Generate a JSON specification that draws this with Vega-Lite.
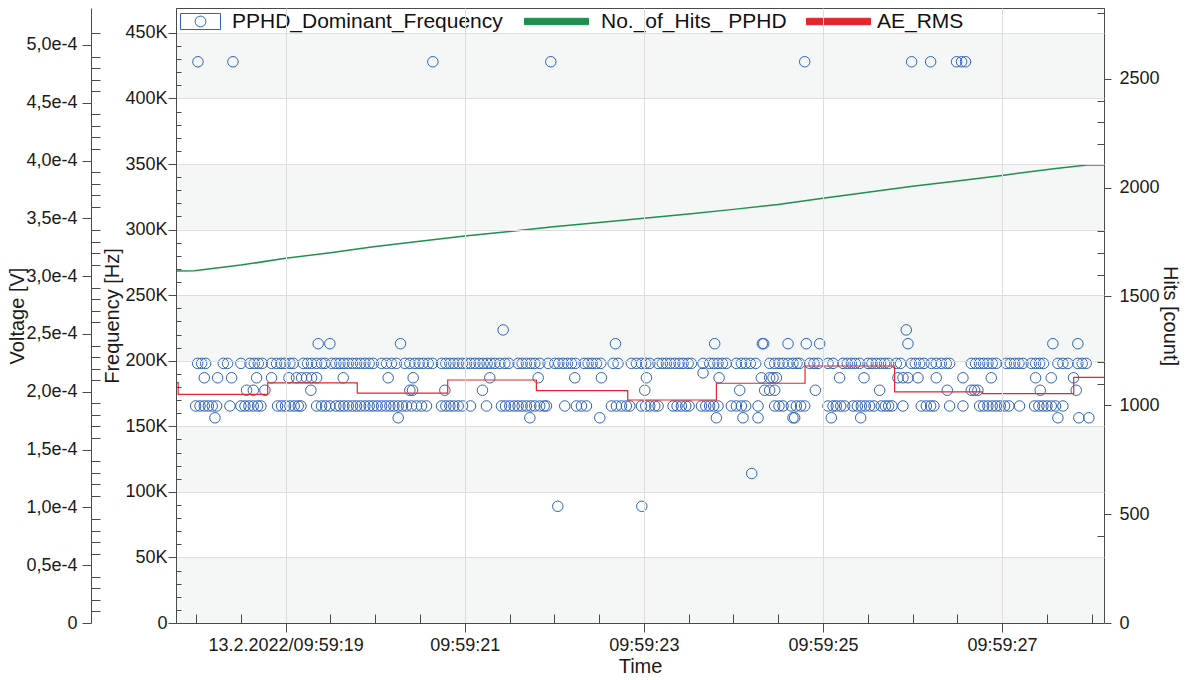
{
  "$schema": "https://vega.github.io/schema/vega-lite/v6.json",
  "width": 928,
  "height": 615,
  "autosize": {"type": "none"},
  "padding": {"left": 176, "top": 8, "right": 86, "bottom": 57},
  "background": "white",
  "config": {
    "view": {"stroke": "#4a4a4a", "strokeWidth": 1},
    "axis": {
      "labelFont": "Liberation Sans",
      "titleFont": "Liberation Sans",
      "labelColor": "#1a1a1a",
      "titleColor": "#1a1a1a",
      "titleFontWeight": "normal",
      "domainColor": "#4a4a4a",
      "tickColor": "#4a4a4a",
      "gridColor": "#dddddd",
      "labelFontSize": 18,
      "titleFontSize": 20,
      "labelOverlap": false,
      "labelFlush": false
    },
    "legend": {
      "labelFont": "Liberation Sans",
      "labelFontSize": 21,
      "labelColor": "#111111",
      "labelLimit": 400,
      "padding": 0
    }
  },
  "datasets": {
    "bands": [
      {"lo": 400000, "hi": 450000},
      {"lo": 300000, "hi": 350000},
      {"lo": 200000, "hi": 250000},
      {"lo": 100000, "hi": 150000},
      {"lo": 0, "hi": 50000}
    ],
    "ae": [
      {"t": 17.776, "v": 0.0002079},
      {"t": 17.80, "v": 0.0001978},
      {"t": 18.80, "v": 0.0002077},
      {"t": 19.80, "v": 0.0001988},
      {"t": 20.81, "v": 0.0002102},
      {"t": 21.80, "v": 0.0002010},
      {"t": 22.82, "v": 0.0001929},
      {"t": 23.81, "v": 0.0002074},
      {"t": 24.80, "v": 0.0002223},
      {"t": 25.80, "v": 0.0002000},
      {"t": 26.78, "v": 0.0001985},
      {"t": 27.80, "v": 0.0002125},
      {"t": 28.138, "v": 0.0002125}
    ],
    "hits": [
      {"t": 17.776, "n": 1617},
      {"t": 17.98, "n": 1618},
      {"t": 18.5, "n": 1644},
      {"t": 19.0, "n": 1675},
      {"t": 19.5, "n": 1701},
      {"t": 19.98, "n": 1728},
      {"t": 20.5, "n": 1754},
      {"t": 21.0, "n": 1778},
      {"t": 21.5, "n": 1798},
      {"t": 21.99, "n": 1820},
      {"t": 22.5, "n": 1840},
      {"t": 23.0, "n": 1859},
      {"t": 23.5, "n": 1879},
      {"t": 24.0, "n": 1900},
      {"t": 24.5, "n": 1922},
      {"t": 25.0, "n": 1951},
      {"t": 25.5, "n": 1979},
      {"t": 26.0, "n": 2006},
      {"t": 26.5, "n": 2030},
      {"t": 27.0, "n": 2056},
      {"t": 27.6, "n": 2088},
      {"t": 27.95, "n": 2104},
      {"t": 28.138, "n": 2104}
    ],
    "pts": [
      {"t": 18.017, "f": 198000}, {"t": 18.062, "f": 198000}, {"t": 18.107, "f": 198000}, {"t": 18.304, "f": 198000}, {"t": 18.352, "f": 198000},
      {"t": 18.501, "f": 198000}, {"t": 18.602, "f": 198000}, {"t": 18.650, "f": 198000}, {"t": 18.695, "f": 198000}, {"t": 18.739, "f": 198000},
      {"t": 18.843, "f": 198000}, {"t": 18.899, "f": 198000}, {"t": 18.948, "f": 198000}, {"t": 18.992, "f": 198000}, {"t": 19.048, "f": 198000},
      {"t": 19.085, "f": 198000}, {"t": 19.197, "f": 198000}, {"t": 19.245, "f": 198000}, {"t": 19.290, "f": 198000}, {"t": 19.346, "f": 198000},
      {"t": 19.401, "f": 198000}, {"t": 19.439, "f": 198000}, {"t": 19.513, "f": 198000}, {"t": 19.561, "f": 198000}, {"t": 19.606, "f": 198000},
      {"t": 19.651, "f": 198000}, {"t": 19.699, "f": 198000}, {"t": 19.747, "f": 198000}, {"t": 19.792, "f": 198000}, {"t": 19.837, "f": 198000},
      {"t": 19.885, "f": 198000}, {"t": 19.933, "f": 198000}, {"t": 19.978, "f": 198000}, {"t": 20.071, "f": 198000}, {"t": 20.127, "f": 198000},
      {"t": 20.183, "f": 198000}, {"t": 20.238, "f": 198000}, {"t": 20.331, "f": 198000}, {"t": 20.387, "f": 198000}, {"t": 20.443, "f": 198000},
      {"t": 20.491, "f": 198000}, {"t": 20.536, "f": 198000}, {"t": 20.592, "f": 198000}, {"t": 20.640, "f": 198000}, {"t": 20.741, "f": 198000},
      {"t": 20.789, "f": 198000}, {"t": 20.834, "f": 198000}, {"t": 20.878, "f": 198000}, {"t": 20.927, "f": 198000}, {"t": 20.975, "f": 198000},
      {"t": 21.020, "f": 198000}, {"t": 21.064, "f": 198000}, {"t": 21.113, "f": 198000}, {"t": 21.161, "f": 198000}, {"t": 21.206, "f": 198000},
      {"t": 21.250, "f": 198000}, {"t": 21.291, "f": 198000}, {"t": 21.336, "f": 198000}, {"t": 21.392, "f": 198000}, {"t": 21.448, "f": 198000},
      {"t": 21.492, "f": 198000}, {"t": 21.596, "f": 198000}, {"t": 21.641, "f": 198000}, {"t": 21.689, "f": 198000}, {"t": 21.738, "f": 198000},
      {"t": 21.782, "f": 198000}, {"t": 21.838, "f": 198000}, {"t": 21.931, "f": 198000}, {"t": 22.006, "f": 198000}, {"t": 22.050, "f": 198000},
      {"t": 22.099, "f": 198000}, {"t": 22.147, "f": 198000}, {"t": 22.192, "f": 198000}, {"t": 22.236, "f": 198000}, {"t": 22.333, "f": 198000},
      {"t": 22.378, "f": 198000}, {"t": 22.422, "f": 198000}, {"t": 22.471, "f": 198000}, {"t": 22.519, "f": 198000}, {"t": 22.657, "f": 198000},
      {"t": 22.712, "f": 198000}, {"t": 22.861, "f": 198000}, {"t": 22.917, "f": 198000}, {"t": 22.973, "f": 198000}, {"t": 23.021, "f": 198000},
      {"t": 23.066, "f": 198000}, {"t": 23.159, "f": 198000}, {"t": 23.207, "f": 198000}, {"t": 23.252, "f": 198000}, {"t": 23.296, "f": 198000},
      {"t": 23.345, "f": 198000}, {"t": 23.393, "f": 198000}, {"t": 23.438, "f": 198000}, {"t": 23.494, "f": 198000}, {"t": 23.531, "f": 198000},
      {"t": 23.661, "f": 198000}, {"t": 23.735, "f": 198000}, {"t": 23.780, "f": 198000}, {"t": 23.828, "f": 198000}, {"t": 23.877, "f": 198000},
      {"t": 23.921, "f": 198000}, {"t": 24.033, "f": 198000}, {"t": 24.089, "f": 198000}, {"t": 24.137, "f": 198000}, {"t": 24.189, "f": 198000},
      {"t": 24.249, "f": 198000}, {"t": 24.405, "f": 198000}, {"t": 24.461, "f": 198000}, {"t": 24.509, "f": 198000}, {"t": 24.554, "f": 198000},
      {"t": 24.610, "f": 198000}, {"t": 24.665, "f": 198000}, {"t": 24.710, "f": 198000}, {"t": 24.740, "f": 198000}, {"t": 24.852, "f": 198000},
      {"t": 24.900, "f": 198000}, {"t": 24.945, "f": 198000}, {"t": 25.056, "f": 198000}, {"t": 25.112, "f": 198000}, {"t": 25.224, "f": 198000},
      {"t": 25.272, "f": 198000}, {"t": 25.317, "f": 198000}, {"t": 25.361, "f": 198000}, {"t": 25.410, "f": 198000}, {"t": 25.503, "f": 198000},
      {"t": 25.547, "f": 198000}, {"t": 25.596, "f": 198000}, {"t": 25.644, "f": 198000}, {"t": 25.689, "f": 198000}, {"t": 25.733, "f": 198000},
      {"t": 25.819, "f": 198000}, {"t": 25.867, "f": 198000}, {"t": 25.986, "f": 198000}, {"t": 26.031, "f": 198000}, {"t": 26.079, "f": 198000},
      {"t": 26.128, "f": 198000}, {"t": 26.210, "f": 198000}, {"t": 26.265, "f": 198000}, {"t": 26.321, "f": 198000}, {"t": 26.377, "f": 198000},
      {"t": 26.414, "f": 198000}, {"t": 26.656, "f": 198000}, {"t": 26.704, "f": 198000}, {"t": 26.749, "f": 198000}, {"t": 26.794, "f": 198000},
      {"t": 26.842, "f": 198000}, {"t": 26.890, "f": 198000}, {"t": 26.935, "f": 198000}, {"t": 27.047, "f": 198000}, {"t": 27.091, "f": 198000},
      {"t": 27.140, "f": 198000}, {"t": 27.188, "f": 198000}, {"t": 27.233, "f": 198000}, {"t": 27.326, "f": 198000}, {"t": 27.374, "f": 198000},
      {"t": 27.419, "f": 198000}, {"t": 27.463, "f": 198000}, {"t": 27.623, "f": 198000}, {"t": 27.679, "f": 198000}, {"t": 27.735, "f": 198000},
      {"t": 27.846, "f": 198000}, {"t": 27.895, "f": 198000}, {"t": 27.939, "f": 198000},

      {"t": 18.092, "f": 187000}, {"t": 18.241, "f": 187000}, {"t": 18.397, "f": 187000}, {"t": 18.676, "f": 187000}, {"t": 18.843, "f": 187000},
      {"t": 19.037, "f": 187000}, {"t": 19.122, "f": 187000}, {"t": 19.178, "f": 187000}, {"t": 19.234, "f": 187000}, {"t": 19.290, "f": 187000},
      {"t": 19.346, "f": 187000}, {"t": 19.643, "f": 187000}, {"t": 20.145, "f": 187000}, {"t": 20.424, "f": 187000}, {"t": 21.280, "f": 187000},
      {"t": 21.820, "f": 187000}, {"t": 22.229, "f": 187000}, {"t": 22.526, "f": 187000}, {"t": 23.029, "f": 187000}, {"t": 23.661, "f": 190700},
      {"t": 23.840, "f": 187000}, {"t": 24.312, "f": 187000}, {"t": 24.405, "f": 187000}, {"t": 24.442, "f": 187000}, {"t": 24.480, "f": 187000},
      {"t": 25.186, "f": 187000}, {"t": 25.458, "f": 187000}, {"t": 25.837, "f": 187000}, {"t": 25.893, "f": 187000}, {"t": 25.949, "f": 187000},
      {"t": 26.061, "f": 187000}, {"t": 26.265, "f": 187000}, {"t": 26.563, "f": 187000}, {"t": 26.879, "f": 187000}, {"t": 27.374, "f": 187000},
      {"t": 27.549, "f": 187000}, {"t": 27.798, "f": 187000},

      {"t": 18.564, "f": 177500}, {"t": 18.639, "f": 177500}, {"t": 18.769, "f": 177500}, {"t": 19.282, "f": 177500}, {"t": 20.387, "f": 177500},
      {"t": 20.417, "f": 177500}, {"t": 20.778, "f": 177500}, {"t": 21.198, "f": 177500}, {"t": 23.010, "f": 177500}, {"t": 24.070, "f": 177500},
      {"t": 24.349, "f": 177500}, {"t": 24.405, "f": 177500}, {"t": 24.461, "f": 177500}, {"t": 24.915, "f": 177500}, {"t": 25.633, "f": 177500},
      {"t": 26.388, "f": 177500}, {"t": 26.656, "f": 177500}, {"t": 26.693, "f": 177500}, {"t": 26.730, "f": 177500}, {"t": 27.426, "f": 177500},
      {"t": 27.828, "f": 177500},

      {"t": 17.995, "f": 165500}, {"t": 18.044, "f": 165500}, {"t": 18.092, "f": 165500}, {"t": 18.137, "f": 165500}, {"t": 18.181, "f": 165500},
      {"t": 18.230, "f": 165500}, {"t": 18.378, "f": 165500}, {"t": 18.501, "f": 165500}, {"t": 18.546, "f": 165500}, {"t": 18.590, "f": 165500},
      {"t": 18.639, "f": 165500}, {"t": 18.687, "f": 165500}, {"t": 18.724, "f": 165500}, {"t": 18.910, "f": 165500}, {"t": 18.955, "f": 165500},
      {"t": 18.999, "f": 165500}, {"t": 19.048, "f": 165500}, {"t": 19.096, "f": 165500}, {"t": 19.141, "f": 165500}, {"t": 19.171, "f": 165500},
      {"t": 19.346, "f": 165500}, {"t": 19.401, "f": 165500}, {"t": 19.446, "f": 165500}, {"t": 19.494, "f": 165500}, {"t": 19.561, "f": 165500},
      {"t": 19.606, "f": 165500}, {"t": 19.651, "f": 165500}, {"t": 19.699, "f": 165500}, {"t": 19.747, "f": 165500}, {"t": 19.792, "f": 165500},
      {"t": 19.837, "f": 165500}, {"t": 19.885, "f": 165500}, {"t": 19.933, "f": 165500}, {"t": 19.978, "f": 165500}, {"t": 20.023, "f": 165500},
      {"t": 20.071, "f": 165500}, {"t": 20.119, "f": 165500}, {"t": 20.164, "f": 165500}, {"t": 20.209, "f": 165500}, {"t": 20.257, "f": 165500},
      {"t": 20.305, "f": 165500}, {"t": 20.350, "f": 165500}, {"t": 20.406, "f": 165500}, {"t": 20.462, "f": 165500}, {"t": 20.517, "f": 165500},
      {"t": 20.573, "f": 165500}, {"t": 20.741, "f": 165500}, {"t": 20.789, "f": 165500}, {"t": 20.834, "f": 165500}, {"t": 20.878, "f": 165500},
      {"t": 20.927, "f": 165500}, {"t": 20.975, "f": 165500}, {"t": 21.064, "f": 165500}, {"t": 21.243, "f": 165500}, {"t": 21.410, "f": 165500},
      {"t": 21.455, "f": 165500}, {"t": 21.503, "f": 165500}, {"t": 21.552, "f": 165500}, {"t": 21.596, "f": 165500}, {"t": 21.641, "f": 165500},
      {"t": 21.689, "f": 165500}, {"t": 21.738, "f": 165500}, {"t": 21.782, "f": 165500}, {"t": 21.838, "f": 165500}, {"t": 21.887, "f": 165500},
      {"t": 21.912, "f": 165500}, {"t": 22.117, "f": 165500}, {"t": 22.247, "f": 165500}, {"t": 22.303, "f": 165500}, {"t": 22.359, "f": 165500},
      {"t": 22.638, "f": 165500}, {"t": 22.694, "f": 165500}, {"t": 22.750, "f": 165500}, {"t": 22.805, "f": 165500}, {"t": 22.843, "f": 165500},
      {"t": 22.973, "f": 165500}, {"t": 23.021, "f": 165500}, {"t": 23.066, "f": 165500}, {"t": 23.122, "f": 165500}, {"t": 23.159, "f": 165500},
      {"t": 23.326, "f": 165500}, {"t": 23.371, "f": 165500}, {"t": 23.419, "f": 165500}, {"t": 23.468, "f": 165500}, {"t": 23.505, "f": 165500},
      {"t": 23.643, "f": 165500}, {"t": 23.691, "f": 165500}, {"t": 23.735, "f": 165500}, {"t": 23.780, "f": 165500}, {"t": 23.828, "f": 165500},
      {"t": 23.977, "f": 165500}, {"t": 24.033, "f": 165500}, {"t": 24.089, "f": 165500}, {"t": 24.137, "f": 165500}, {"t": 24.275, "f": 165500},
      {"t": 24.461, "f": 165500}, {"t": 24.509, "f": 165500}, {"t": 24.554, "f": 165500}, {"t": 24.647, "f": 165500}, {"t": 24.703, "f": 165500},
      {"t": 24.751, "f": 165500}, {"t": 24.796, "f": 165500}, {"t": 25.056, "f": 165500}, {"t": 25.112, "f": 165500}, {"t": 25.149, "f": 165500},
      {"t": 25.198, "f": 165500}, {"t": 25.242, "f": 165500}, {"t": 25.335, "f": 165500}, {"t": 25.384, "f": 165500}, {"t": 25.428, "f": 165500},
      {"t": 25.473, "f": 165500}, {"t": 25.521, "f": 165500}, {"t": 25.570, "f": 165500}, {"t": 25.651, "f": 165500}, {"t": 25.696, "f": 165500},
      {"t": 25.733, "f": 165500}, {"t": 25.771, "f": 165500}, {"t": 25.893, "f": 165500}, {"t": 26.098, "f": 165500}, {"t": 26.154, "f": 165500},
      {"t": 26.202, "f": 165500}, {"t": 26.239, "f": 165500}, {"t": 26.414, "f": 165500}, {"t": 26.563, "f": 165500}, {"t": 26.749, "f": 165500},
      {"t": 26.794, "f": 165500}, {"t": 26.842, "f": 165500}, {"t": 26.890, "f": 165500}, {"t": 26.935, "f": 165500}, {"t": 26.980, "f": 165500},
      {"t": 27.028, "f": 165500}, {"t": 27.076, "f": 165500}, {"t": 27.195, "f": 165500}, {"t": 27.363, "f": 165500}, {"t": 27.411, "f": 165500},
      {"t": 27.456, "f": 165500}, {"t": 27.501, "f": 165500}, {"t": 27.549, "f": 165500}, {"t": 27.597, "f": 165500}, {"t": 27.679, "f": 165500},

      {"t": 18.211, "f": 156500}, {"t": 20.257, "f": 156500}, {"t": 21.727, "f": 156500}, {"t": 22.508, "f": 156500}, {"t": 23.810, "f": 156500},
      {"t": 24.107, "f": 156500}, {"t": 24.275, "f": 156500}, {"t": 24.665, "f": 156500}, {"t": 24.684, "f": 156500}, {"t": 25.093, "f": 156500},
      {"t": 25.421, "f": 156500}, {"t": 27.623, "f": 156500}, {"t": 27.857, "f": 156500}, {"t": 27.969, "f": 156500},

      {"t": 19.364, "f": 213000}, {"t": 19.494, "f": 213000}, {"t": 20.283, "f": 213000}, {"t": 22.683, "f": 213000}, {"t": 23.791, "f": 213000},
      {"t": 24.323, "f": 213000}, {"t": 24.338, "f": 213000}, {"t": 24.610, "f": 213000}, {"t": 24.814, "f": 213000}, {"t": 24.963, "f": 213000},
      {"t": 25.949, "f": 213000}, {"t": 27.567, "f": 213000}, {"t": 27.846, "f": 213000},

      {"t": 21.429, "f": 223500}, {"t": 25.930, "f": 223500},

      {"t": 18.021, "f": 428000}, {"t": 18.412, "f": 428000}, {"t": 20.644, "f": 428000}, {"t": 21.961, "f": 428000}, {"t": 24.796, "f": 428000},
      {"t": 25.990, "f": 428000}, {"t": 26.202, "f": 428000}, {"t": 26.492, "f": 428000}, {"t": 26.548, "f": 428000}, {"t": 26.592, "f": 428000},

      {"t": 22.039, "f": 89000}, {"t": 22.977, "f": 89000}, {"t": 24.204, "f": 114000}
    ]
  },
  "resolve": {
    "scale": {"y": "independent", "color": "independent"},
    "axis": {"y": "independent"},
    "legend": {"color": "independent"}
  },
  "layer": [
    {
      "data": {"name": "bands"},
      "mark": {"type": "rect", "fill": "#f4f7f5"},
      "encoding": {
        "y": {"field": "lo", "type": "quantitative", "scale": {"domain": [0, 469000], "nice": false}, "axis": null},
        "y2": {"field": "hi"}
      }
    },
    {
      "data": {"name": "pts"},
      "mark": {"type": "point", "filled": false, "size": 110, "strokeWidth": 1, "opacity": 1},
      "encoding": {
        "x": {
          "field": "t",
          "type": "quantitative",
          "scale": {"domain": [17.776, 28.138], "nice": false, "zero": false},
          "axis": {
            "title": "Time",
            "values": [18, 18.5, 19, 19.5, 20, 20.5, 21, 21.5, 22, 22.5, 23, 23.5, 24, 24.5, 25, 25.5, 26, 26.5, 27, 27.5, 28],
            "labelExpr": "datum.value == 19 ? '13.2.2022/09:59:19' : (datum.value % 2 == 1 ? '09:59:' + datum.value : '')",
            "grid": true,
            "gridOpacity": {"condition": {"test": "datum.value % 2 == 1", "value": 1}, "value": 0},
            "tickSize": {"condition": {"test": "datum.value % 2 == 1", "value": 9}, "value": -9},
            "labelPadding": 4,
            "titlePadding": 2,
            "zindex": 1
          }
        },
        "y": {
          "field": "f",
          "type": "quantitative",
          "scale": {"domain": [0, 469000], "nice": false},
          "axis": {
            "orient": "left",
            "title": "Frequency [Hz]",
            "values": [0, 10000, 20000, 30000, 40000, 50000, 60000, 70000, 80000, 90000, 100000, 110000, 120000, 130000, 140000, 150000, 160000, 170000, 180000, 190000, 200000, 210000, 220000, 230000, 240000, 250000, 260000, 270000, 280000, 290000, 300000, 310000, 320000, 330000, 340000, 350000, 360000, 370000, 380000, 390000, 400000, 410000, 420000, 430000, 440000, 450000],
            "labelExpr": "datum.value == 0 ? '0' : (datum.value % 50000 == 0 ? (datum.value / 1000) + 'K' : '')",
            "grid": true,
            "gridOpacity": {"condition": {"test": "datum.value % 50000 == 0", "value": 1}, "value": 0},
            "tickSize": {"condition": {"test": "datum.value % 50000 == 0", "value": 8}, "value": -5},
            "labelPadding": 1,
            "titlePadding": 2,
            "zindex": 1
          }
        },
        "color": {
          "datum": "PPHD_Dominant_Frequency",
          "scale": {"range": ["#2f62b8"]},
          "legend": {
            "title": null,
            "orient": "none",
            "legendX": 4,
            "legendY": -7,
            "direction": "horizontal",
            "symbolType": "M-1,-0.4H1V0.4H-1Z M0.27,0 A0.27,0.27 0 1,1 -0.27,0 A0.27,0.27 0 1,1 0.27,0",
            "symbolSize": 1600,
            "symbolStrokeWidth": 1,
            "labelOffset": 11
          }
        }
      }
    },
    {
      "data": {"name": "hits"},
      "mark": {"type": "line", "strokeWidth": 1.5},
      "encoding": {
        "x": {"field": "t", "type": "quantitative"},
        "y": {
          "field": "n",
          "type": "quantitative",
          "scale": {"domain": [0, 2825], "nice": false},
          "axis": {
            "orient": "right",
            "title": "Hits [count]",
            "values": [0, 100, 200, 300, 400, 500, 600, 700, 800, 900, 1000, 1100, 1200, 1300, 1400, 1500, 1600, 1700, 1800, 1900, 2000, 2100, 2200, 2300, 2400, 2500, 2600, 2700, 2800],
            "labelExpr": "datum.value % 500 == 0 ? datum.value + '' : ''",
            "grid": false,
            "tickSize": {"condition": {"test": "datum.value % 500 == 0", "value": 7}, "value": -7},
            "labelPadding": 8,
            "titlePadding": 0
          }
        },
        "color": {
          "datum": "No._of_Hits_ PPHD",
          "scale": {"range": ["#1f8f4f"]},
          "legend": {
            "title": null,
            "orient": "none",
            "legendX": 348,
            "legendY": -19,
            "direction": "horizontal",
            "symbolType": "M-1,-0.1H1V0.1H-1Z",
            "symbolSize": 4096,
            "symbolFillColor": "#1f8f4f",
            "symbolStrokeColor": "#222222",
            "symbolStrokeWidth": 1,
            "labelOffset": 12,
            "encode": {"symbols": {"enter": {"fill": {"value": "#1f8f4f"}, "stroke": {"value": "#222222"}, "strokeWidth": {"value": 1}}, "update": {"fill": {"value": "#1f8f4f"}, "stroke": {"value": "#222222"}, "strokeWidth": {"value": 1}, "opacity": {"value": 1}}}}
          }
        }
      }
    },
    {
      "data": {"name": "ae"},
      "mark": {"type": "line", "interpolate": "step-after", "strokeWidth": 1.2},
      "encoding": {
        "x": {"field": "t", "type": "quantitative"},
        "y": {
          "field": "v",
          "type": "quantitative",
          "scale": {"domain": [0, 0.000532], "nice": false},
          "axis": {
            "orient": "left",
            "offset": 85,
            "title": "Voltage [V]",
            "values": [0, 0.00001, 0.00002, 0.00003, 0.00004, 0.00005, 0.00006, 0.00007, 0.00008, 0.00009, 0.0001, 0.00011, 0.00012, 0.00013, 0.00014, 0.00015, 0.00016, 0.00017, 0.00018, 0.00019, 0.0002, 0.00021, 0.00022, 0.00023, 0.00024, 0.00025, 0.00026, 0.00027, 0.00028, 0.00029, 0.0003, 0.00031, 0.00032, 0.00033, 0.00034, 0.00035, 0.00036, 0.00037, 0.00038, 0.00039, 0.0004, 0.00041, 0.00042, 0.00043, 0.00044, 0.00045, 0.00046, 0.00047, 0.00048, 0.00049, 0.0005, 0.00051],
            "labelExpr": "datum.value == 0 ? '0' : (abs(datum.value * 2e4 - round(datum.value * 2e4)) < 1e-6 ? replace(format(datum.value * 1e4, '.1f'), '.', ',') + 'e-4' : '')",
            "grid": false,
            "tickSize": {"condition": {"test": "abs(datum.value * 2e4 - round(datum.value * 2e4)) < 1e-6", "value": 9}, "value": -9},
            "labelPadding": 5,
            "titlePadding": -2
          }
        },
        "color": {
          "datum": "AE_RMS",
          "scale": {"range": ["#e3262d"]},
          "legend": {
            "title": null,
            "orient": "none",
            "legendX": 630,
            "legendY": -19,
            "direction": "horizontal",
            "symbolType": "M-1,-0.1H1V0.1H-1Z",
            "symbolSize": 4096,
            "symbolFillColor": "#e3262d",
            "symbolStrokeColor": "#222222",
            "symbolStrokeWidth": 1,
            "labelOffset": 6,
            "encode": {"symbols": {"enter": {"fill": {"value": "#e3262d"}, "stroke": {"value": "#222222"}, "strokeWidth": {"value": 1}}, "update": {"fill": {"value": "#e3262d"}, "stroke": {"value": "#222222"}, "strokeWidth": {"value": 1}, "opacity": {"value": 1}}}}
          }
        }
      }
    }
  ]
}
